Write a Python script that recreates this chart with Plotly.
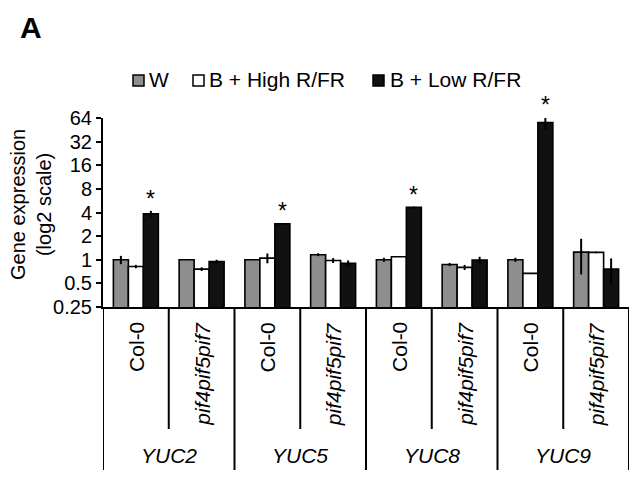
import math
import plotly.graph_objects as go

# ---- data ----
genes = ["YUC2", "YUC5", "YUC8", "YUC9"]
genotypes = ["Col-0", "pif4pif5pif7"]
series_names = ["W", "B + High R/FR", "B + Low R/FR"]
w_vals = [1.0, 1.0, 1.0, 1.16, 1.0, 0.87, 1.0, 1.25]
w_err = [0.12, 0.0, 0.0, 0.05, 0.06, 0.04, 0.06, 0.6]
high_vals = [0.82, 0.76, 1.05, 0.98, 1.09, 0.80, 0.67, 1.24]
high_err = [0.04, 0.04, 0.15, 0.07, 0.0, 0.06, 0.0, 0.03]
low_vals = [3.85, 0.95, 2.87, 0.9, 4.65, 0.99, 56.0, 0.76]
low_err = [0.35, 0.05, 0.04, 0.08, 0.1, 0.1, 10.0, 0.28]
significant = [True, False, True, False, True, False, True, False]
y_ticks = [0.25, 0.5, 1, 2, 4, 8, 16, 32, 64]

FONT = "Liberation Sans, Arial, sans-serif"
colors = ["#8e8e8e", "#ffffff", "#111111"]
n = len(genes) * len(genotypes)
xs = list(range(n))
Y_MIN, Y_MAX = 0.25, 64

fig = go.Figure()
for name, vals, errs, col in zip(series_names, [w_vals, high_vals, low_vals],
                                 [w_err, high_err, low_err], colors):
    fig.add_trace(go.Bar(
        x=xs, y=vals, name=name,
        marker=dict(color=col, line=dict(color="black", width=1.6)),
        error_y=dict(type="data", array=errs, visible=True, color="black",
                     thickness=2, width=0),
        showlegend=False,
    ))

BARGAP = 0.316
bar_w = (1 - BARGAP) / 3

annotations = []
shapes = []

# page offset (body margin) and plot area in screenshot pixels
OFF = 8
PL, PW, PT, PH = 103, 526, 118, 189
FIG_W, FIG_H = 637 - OFF, 477 - OFF

def px2paper(px, py):
    return (px - PL) / PW, (PT + PH - py) / PH

def py2paper(py):
    return (PT + PH - py) / PH

def val2paper(v):
    lo, hi = math.log10(Y_MIN), math.log10(Y_MAX)
    return (math.log10(v) - lo) / (hi - lo)

# category labels (rotated)
for i in xs:
    g = genotypes[i % 2]
    txt = g if g == "Col-0" else "<i>" + g + "</i>"
    annotations.append(dict(x=i, xref="x", y=py2paper(320), yref="paper", text=txt,
                            textangle=-90, showarrow=False, yanchor="top",
                            xanchor="center", font=dict(size=21, family=FONT, color="black")))
# gene labels
for gi, gname in enumerate(genes):
    annotations.append(dict(x=gi * 2 + 0.5, xref="x", y=py2paper(455), yref="paper",
                            text="<i>" + gname + "</i>", showarrow=False,
                            yanchor="middle", xanchor="center",
                            font=dict(size=21, family=FONT, color="black")))
# separator lines
for b in range(n + 1):
    xb = b - 0.5
    y1 = py2paper(470) if b % 2 == 0 else py2paper(429)
    shapes.append(dict(type="line", xref="x", yref="paper", x0=xb, x1=xb,
                       y0=0, y1=y1, line=dict(color="black", width=2)))
# asterisks
for i in xs:
    if significant[i]:
        annotations.append(dict(x=i + bar_w, xref="x",
                                y=val2paper(low_vals[i] + low_err[i]), yref="paper",
                                text="*", showarrow=False, yanchor="bottom",
                                yshift=-3,
                                font=dict(size=23, family=FONT, color="black")))

# custom legend
legend_items = [(133, 147), (193, 207), (373, 388)]
for (sx, tx), name, col in zip(legend_items, series_names, colors):
    x0, y0 = px2paper(sx, 86)
    x1, y1 = px2paper(sx + 11, 75)
    shapes.append(dict(type="rect", xref="paper", yref="paper", x0=x0, x1=x1,
                       y0=y0, y1=y1, fillcolor=col, line=dict(color="black", width=1.5)))
    tx_p, ty_p = px2paper(tx, 80)
    annotations.append(dict(x=tx_p, y=ty_p, xref="paper", yref="paper", text=name,
                            showarrow=False, xanchor="left", yanchor="middle",
                            font=dict(size=21, family=FONT, color="black")))

# panel letter
ax_, ay_ = px2paper(18, OFF + 1)
annotations.append(dict(x=ax_, y=ay_, xref="paper", yref="paper", text="<b>A</b>",
                        showarrow=False, xanchor="left", yanchor="top",
                        font=dict(size=30, family=FONT, color="black")))
# y title
tx_, ty_ = px2paper(31, 205)
annotations.append(dict(x=tx_, y=ty_, xref="paper", yref="paper",
                        text="Gene expression<br>(log2 scale)", textangle=-90,
                        showarrow=False, xanchor="center", yanchor="middle",
                        font=dict(size=20, family=FONT, color="black")))

fig.update_layout(
    width=FIG_W, height=FIG_H,
    margin=dict(l=PL - OFF, r=637 - PL - PW, t=PT - OFF, b=477 - PT - PH),
    paper_bgcolor="white", plot_bgcolor="white",
    barmode="group", bargap=BARGAP, bargroupgap=0,
    font=dict(family=FONT, size=20, color="black"),
    xaxis=dict(range=[-0.5, n - 0.5], showticklabels=False, showgrid=False,
               zeroline=False, showline=True, linecolor="black", linewidth=2,
               ticks="", automargin=False),
    yaxis=dict(type="log", range=[math.log10(Y_MIN), math.log10(Y_MAX)],
               tickvals=y_ticks, ticktext=[("%g" % v) for v in y_ticks],
               showgrid=False, zeroline=False, showline=True, linecolor="black",
               linewidth=2, ticks="outside", ticklen=5, tickwidth=2, automargin=False,
               tickcolor="black", tickfont=dict(size=20, family=FONT, color="black")),
    annotations=annotations, shapes=shapes,
)
fig.write_html("out.html")
